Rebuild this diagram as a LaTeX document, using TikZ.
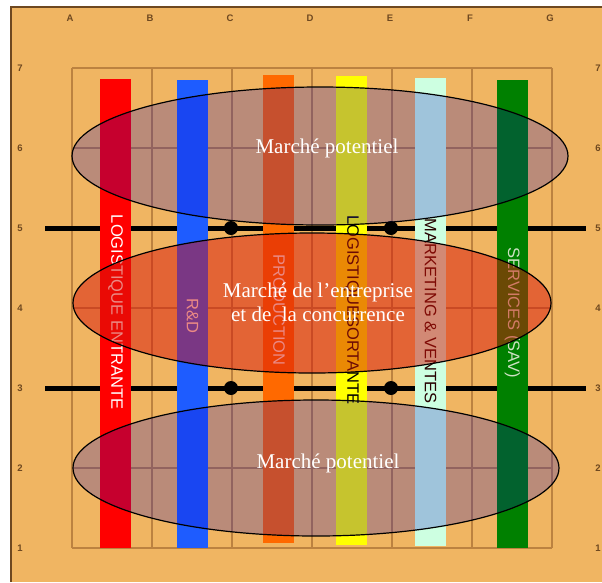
\documentclass[tikz,border=0pt]{standalone}
\usepackage{fontspec}
\setmainfont{Liberation Serif}
\setsansfont{Liberation Sans}
\definecolor{fond}{RGB}{240,181,98}
\definecolor{grille}{RGB}{188,130,64}
\definecolor{cadre}{RGB}{110,72,32}
\definecolor{login}{RGB}{255,0,0}
\definecolor{rd}{RGB}{30,92,255}
\definecolor{prod}{RGB}{255,105,0}
\definecolor{logout}{RGB}{255,255,0}
\definecolor{mkt}{RGB}{205,255,225}
\definecolor{sav}{RGB}{0,128,0}
\definecolor{potentiel}{RGB}{10,0,200}
\definecolor{entreprise}{RGB}{215,20,10}
\definecolor{savtxt}{RGB}{205,225,195}
\begin{document}
\begin{tikzpicture}[x=1pt,y=-1pt,line width=.6pt,
  repere/.style={text=cadre,font=\sffamily\bfseries\fontsize{9.5}{9.5}\selectfont},
  barlabel/.style={font=\sffamily\fontsize{16.5}{18}\selectfont,rotate=-90,inner sep=0pt},
  marche/.style={draw=black,line width=1.2pt,fill=potentiel,fill opacity=.23},
  marchelabel/.style={text=white,font=\fontsize{21}{24}\selectfont,align=center}]
  \useasboundingbox (0,0) rectangle (602,582);
  \fill[white] (0,0) rectangle (602,582);
  \fill[fond] (11,7) rectangle (602,582);
  \draw[cadre,line width=2pt] (11,582)--(11,7)--(602,7);
  % grille de la feuille
  \foreach \i in {0,...,6} {
    \draw[grille,line width=1.5pt] (72+80*\i,68)--(72+80*\i,548);
    \draw[grille,line width=1.5pt] (72,68+80*\i)--(552,68+80*\i);
  }
  \foreach \l [count=\i from 0] in {A,B,C,D,E,F,G}
    \node[repere] (col\l) at (70+80*\i,18) {\l};
  \foreach \r in {1,...,7} {
    \node[repere] (rowL\r) at (20,548-80*\r+80) {\r};
    \node[repere] (rowR\r) at (598,548-80*\r+80) {\r};
  }
  % frontieres
  \foreach \y/\n in {228/haut,388/bas} {
    \coordinate (\n-g) at (45,\y);
    \coordinate (\n-d) at (586,\y);
    \draw[line width=5pt] (\n-g)--(\n-d);
    \fill (231,\y) circle (7);
    \fill (391,\y) circle (7);
  }
  % activites
  \foreach \x/\t/\b/\c in {100/79/548/login,177/80/548/rd,263/75/543/prod,
      336/76/545/logout,415/78/546/mkt,497/80/548/sav}
    \fill[\c] (\x,\t) rectangle (\x+31,\b);
  \node[barlabel,text=white] (lab-in) at (115.5,312) {LOGISTIQUE ENTRANTE};
  \node[barlabel,text=white] (lab-rd) at (192.5,316) {R\&D};
  \node[barlabel,text=white] (lab-prod) at (279,310) {PRODUCTION};
  \node[barlabel,text=black] (lab-out) at (351.5,310) {LOGISTIQUESORTANTE};
  \node[barlabel,text=black!85!red] (lab-mkt) at (430.5,311) {MARKETING \& VENTES};
  \node[barlabel,text=savtxt] (lab-sav) at (512.5,313) {SERVICES (SAV)};
  % marches
  \draw[marche] (320,156) ellipse [x radius=248,y radius=69];
  \draw[marche,fill=entreprise,fill opacity=.5] (312,303) ellipse [x radius=239,y radius=70];
  \draw[marche] (316,468) ellipse [x radius=243,y radius=68];
  \node[marchelabel] (pot-haut) at (327,148) {Marché potentiel};
  \node[marchelabel] (entr) at (318,302) {Marché de l'entreprise\\et de\ \ la concurrence};
  \node[marchelabel] (pot-bas) at (328,463) {Marché potentiel};
\end{tikzpicture}
\end{document}
